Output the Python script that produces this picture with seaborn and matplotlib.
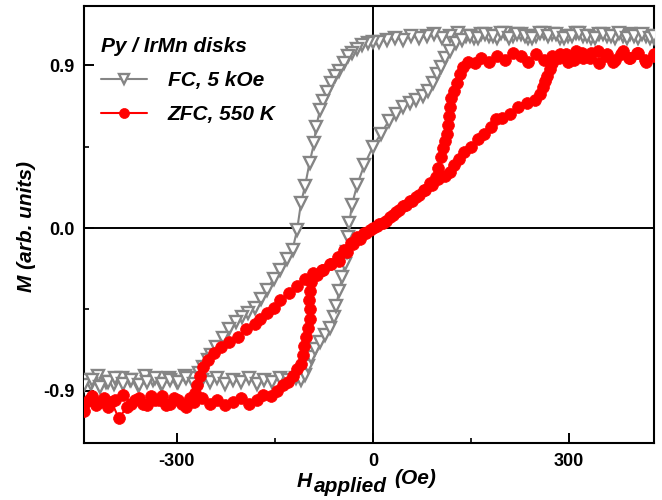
import matplotlib
matplotlib.use('Agg')
import pandas as pd
import matplotlib.pyplot as plt
import seaborn as sns
from matplotlib.ticker import MultipleLocator

# FC, 5 kOe loop (field swept down, then back up)
fc_h_down = [430, 418, 406, 394, 382, 370, 358, 346, 334, 322, 310, 298, 286, 274, 262, 250,
             238, 226, 214, 202, 190, 178, 166, 154, 142, 130, 118, 106, 94, 82, 70, 58,
             46, 34, 22, 10, 0, -8, -16, -25, -32, -38, -45, -52, -58, -64, -71, -76,
             -81, -87, -90, -97, -104, -110, -116, -123, -132, -142, -152, -162, -171, -181,
             -191, -201, -210, -220, -230, -240, -247, -253, -260, -266, -276,
             -288, -300, -312, -324, -336, -348, -360, -372, -384, -396, -408, -420, -432, -442]
fc_m_down = [1.05, 1.06, 1.05, 1.07, 1.06, 1.05, 1.06, 1.07, 1.05, 1.06, 1.08, 1.06, 1.05, 1.07, 1.08, 1.06,
             1.05, 1.07, 1.06, 1.08, 1.05, 1.06, 1.07, 1.05, 1.06, 1.08, 1.06, 1.05, 1.07, 1.06, 1.05, 1.06,
             1.04, 1.05, 1.04, 1.03, 1.03, 1.02, 1.01, 0.99, 0.97, 0.95, 0.91, 0.87, 0.84, 0.80, 0.75, 0.70,
             0.65, 0.56, 0.47, 0.36, 0.23, 0.14, -0.01, -0.12, -0.17, -0.23, -0.28, -0.34, -0.39, -0.44,
             -0.47, -0.49, -0.52, -0.56, -0.61, -0.66, -0.70, -0.73, -0.77, -0.80, -0.83,
             -0.82, -0.85, -0.83, -0.86, -0.84, -0.82, -0.87, -0.84, -0.83, -0.86, -0.85, -0.82, -0.86, -0.84]
fc_h_up = [-442, -430, -418, -406, -394, -382, -370, -358, -346, -334, -322, -310, -298, -286, -274, -262,
           -250, -238, -226, -214, -202, -190, -178, -166, -154, -142, -130, -118, -110, -104, -99, -94,
           -88, -81, -74, -66, -60, -56, -52, -47, -43, -40, -38, -36, -32, -24, -13, 0,
           12, 24, 36, 46, 56, 66, 76, 85, 92, 98, 104, 111, 118, 127, 137, 148,
           160, 172, 184, 196, 208, 220, 232, 244, 256, 268, 280, 292, 304, 316, 328, 340,
           352, 364, 376, 388, 400, 412, 424, 430]
fc_m_up = [-0.87, -0.84, -0.88, -0.85, -0.83, -0.86, -0.84, -0.87, -0.85, -0.83, -0.86, -0.84, -0.85, -0.83, -0.86, -0.84,
           -0.85, -0.83, -0.86, -0.84, -0.85, -0.83, -0.86, -0.84, -0.85, -0.83, -0.84, -0.83, -0.84, -0.81, -0.76, -0.71,
           -0.67, -0.63, -0.59, -0.55, -0.49, -0.43, -0.35, -0.27, -0.20, -0.13, -0.05, 0.03, 0.13, 0.24, 0.35, 0.45,
           0.52, 0.59, 0.63, 0.67, 0.69, 0.71, 0.73, 0.76, 0.80, 0.85, 0.89, 0.94, 0.98, 1.02, 1.04, 1.06,
           1.05, 1.07, 1.06, 1.08, 1.05, 1.07, 1.06, 1.05, 1.08, 1.06, 1.07, 1.05, 1.06, 1.08, 1.06, 1.05,
           1.07, 1.06, 1.08, 1.05, 1.06, 1.07, 1.05, 1.06]

# ZFC, 550 K loop
zfc_h_down = [430, 418, 406, 394, 382, 370, 358, 346, 334, 322, 310, 298, 286, 274, 262, 250,
              238, 226, 214, 202, 190, 178, 166, 156, 146, 138, 133, 129, 124, 120, 118, 117,
              115, 113, 110, 107, 104, 100, 97, 88, 78, 66, 56, 46, 36, 26, 16, 6,
              -4, -14, -24, -34, -44, -54, -65, -78, -91, -104, -116, -129, -142, -152, -162, -172,
              -181, -194, -207, -220, -233, -243, -253, -260, -265, -269, -272, -280,
              -292, -304, -316, -328, -340, -352, -364, -376, -389, -400, -412, -424, -434, -442]
zfc_m_down = [0.95, 0.92, 0.97, 0.94, 0.98, 0.93, 0.96, 0.91, 0.97, 0.94, 0.98, 0.92, 0.96, 0.95, 0.93, 0.96,
              0.92, 0.95, 0.97, 0.93, 0.95, 0.92, 0.94, 0.91, 0.92, 0.89, 0.85, 0.80, 0.76, 0.72, 0.67, 0.62,
              0.57, 0.52, 0.48, 0.44, 0.39, 0.33, 0.28, 0.25, 0.21, 0.17, 0.15, 0.12, 0.09, 0.06, 0.03, 0.01,
              -0.01, -0.03, -0.05, -0.08, -0.12, -0.16, -0.20, -0.23, -0.25, -0.28, -0.32, -0.36, -0.40, -0.44, -0.47, -0.50,
              -0.53, -0.56, -0.60, -0.63, -0.66, -0.69, -0.73, -0.77, -0.82, -0.87, -0.91, -0.94,
              -0.97, -0.94, -0.98, -0.95, -0.93, -0.97, -0.95, -0.99, -1.05, -0.96, -0.94, -0.98, -0.95, -1.01]
zfc_h_up = [-442, -430, -418, -406, -394, -382, -370, -358, -346, -334, -322, -310, -298, -286, -274, -262,
            -250, -238, -226, -214, -202, -190, -178, -168, -156, -146, -138, -130, -123, -116, -110, -107,
            -105, -102, -99, -97, -97, -98, -97, -95, -86, -76, -64, -52, -40, -30, -20, -10,
            0, 10, 20, 30, 40, 50, 60, 70, 80, 90, 100, 110, 118, 124, 131, 140,
            150, 160, 170, 180, 188, 198, 210, 222, 235, 248, 255, 260, 264, 267, 271, 274,
            284, 296, 308, 320, 332, 344, 356, 368, 380, 392, 404, 416, 430]
zfc_m_up = [-0.97, -0.93, -0.96, -0.99, -0.95, -0.92, -0.97, -0.94, -0.98, -0.95, -0.93, -0.97, -0.95, -0.99, -0.96, -0.94,
            -0.97, -0.95, -0.98, -0.96, -0.94, -0.97, -0.95, -0.92, -0.93, -0.90, -0.87, -0.85, -0.82, -0.78, -0.75, -0.70,
            -0.65, -0.60, -0.55, -0.50, -0.45, -0.40, -0.35, -0.30, -0.26, -0.23, -0.20, -0.18, -0.13, -0.09, -0.06, -0.03,
            0.00, 0.02, 0.04, 0.07, 0.10, 0.13, 0.15, 0.18, 0.21, 0.24, 0.27, 0.29, 0.31, 0.35, 0.38, 0.42,
            0.45, 0.49, 0.52, 0.56, 0.60, 0.61, 0.63, 0.67, 0.69, 0.71, 0.74, 0.78, 0.81, 0.84, 0.88, 0.91,
            0.94, 0.96, 0.93, 0.97, 0.94, 0.98, 0.95, 0.92, 0.96, 0.94, 0.97, 0.93, 0.96]

x_ticks = [-300, 0, 300]
y_ticks = [-0.9, 0.0, 0.9]

sns.set_style('ticks')
plt.rcParams['font.family'] = ['Liberation Sans', 'DejaVu Sans']
plt.rcParams['font.weight'] = 'bold'
plt.rcParams['axes.unicode_minus'] = False
for key in ['text.color', 'axes.labelcolor', 'xtick.color', 'ytick.color', 'axes.edgecolor']:
    plt.rcParams[key] = 'black'

fc = pd.DataFrame({'H': fc_h_down + fc_h_up, 'M': fc_m_down + fc_m_up})
zfc = pd.DataFrame({'H': zfc_h_down + zfc_h_up, 'M': zfc_m_down + zfc_m_up})

fig = plt.figure(figsize=(6.62, 5.0), dpi=100)
ax = fig.add_axes([84 / 662, 57 / 500, 570 / 662, 437 / 500])

ax.axhline(0, color='black', lw=1.4, zorder=1)
ax.axvline(0, color='black', lw=1.4, zorder=1)

gray = '#858585'
sns.lineplot(data=fc, x='H', y='M', sort=False, estimator=None, ax=ax,
             color=gray, lw=1.5, marker='v', ms=8.5, mfc='white', mec=gray, mew=1.7,
             label='FC, 5 kOe', zorder=3)
sns.lineplot(data=zfc, x='H', y='M', sort=False, estimator=None, ax=ax,
             color='#ff0000', lw=1.5, marker='o', ms=8.5, mfc='#ff0000', mec='#ff0000', mew=0.5,
             label='ZFC, 550 K', zorder=4)

ax.set_xlim(-442, 430)
ax.set_ylim(-1.188, 1.227)
ax.set_xticks(x_ticks)
ax.set_yticks(y_ticks)
ax.set_xticklabels(['-300', '0', '300'])
ax.set_yticklabels(['-0.9', '0.0', '0.9'])
ax.xaxis.set_minor_locator(MultipleLocator(150))
ax.yaxis.set_minor_locator(MultipleLocator(0.45))
ax.tick_params(which='major', direction='in', length=7, width=1.4, labelsize=13, pad=7,
               top=False, right=False, colors='black')
ax.tick_params(which='minor', direction='in', length=3.5, width=1.2, top=False, right=False)
for lab in ax.get_xticklabels() + ax.get_yticklabels():
    lab.set_fontweight('bold')
for sp in ax.spines.values():
    sp.set_linewidth(1.5)
    sp.set_color('black')
ax.set_xlabel('')
ax.set_ylabel('')

leg_font = {'family': 'Liberation Sans', 'weight': 'bold', 'style': 'italic', 'size': 15}
leg = ax.legend(loc='upper left', bbox_to_anchor=(0.03, 0.928), frameon=False,
                title='Py / IrMn disks', prop=leg_font, title_fontproperties=leg_font,
                handlelength=2.2, handletextpad=1.0, labelspacing=0.72,
                markerscale=0.85, borderpad=0, borderaxespad=0, labelcolor='black')
leg._legend_box.align = 'left'
leg.get_title().set_color('black')

it = dict(family='Liberation Sans', weight='bold', style='italic', color='black')
fig.text(26 / 662, 1 - 227 / 500, 'M (arb. units)', rotation=90, ha='center', va='center',
         fontsize=15, **it)
fig.text(297 / 662, 1 - 487 / 500, 'H', ha='left', va='baseline', fontsize=15, **it)
fig.text(314 / 662, 1 - 492 / 500, 'applied', ha='left', va='baseline', fontsize=15, **it)
fig.text(394 / 662, 1 - 484 / 500, '(Oe)', ha='left', va='baseline', fontsize=15, **it)

fig.savefig('out.png', dpi=100)
